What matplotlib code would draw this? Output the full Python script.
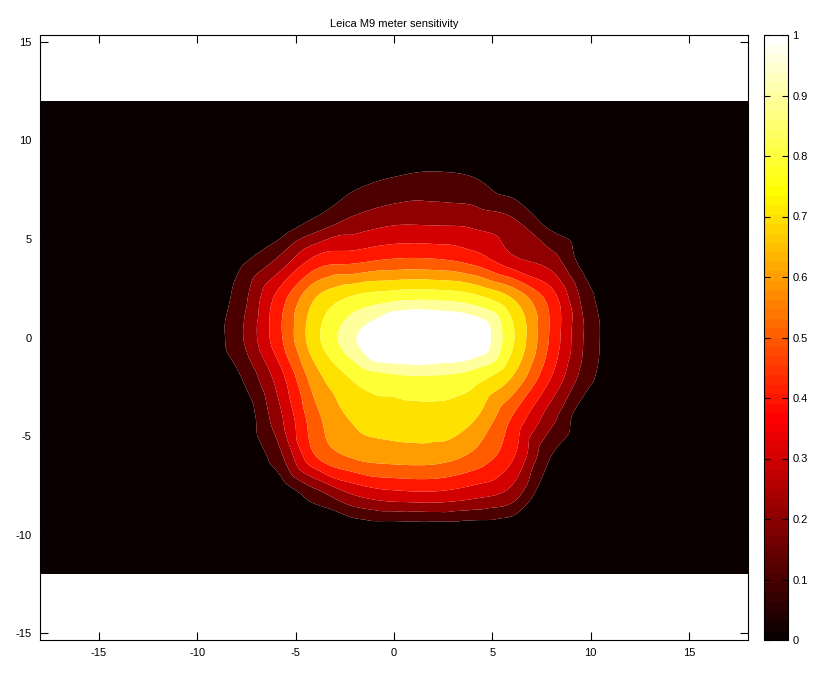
import numpy as np
import matplotlib
matplotlib.use('Agg')
import matplotlib.pyplot as plt
import matplotlib.tri as mtri
from matplotlib.colors import ListedColormap, Normalize
from matplotlib.cm import ScalarMappable

plt.rcParams['font.family'] = ['Liberation Sans', 'DejaVu Sans']
plt.rcParams['axes.unicode_minus'] = False

x_full = [-18, -16, -14, -12, -10, -8, -6, -4, -2, 0, 2, 4, 6, 8, 10, 12, 14, 16, 18]
y_full = [12, 10, 8, 6, 4, 2, 0, -2, -4, -6, -8, -10, -12]
x_inner = [-10, -8, -6, -4, -2, 0, 2, 4, 6, 8, 10, 12]
y_inner = [10, 8, 6, 4, 2, 0, -2, -4, -6, -8, -10]
sens_inner = [
    [0, 0, 0, 0, 0, 0, 0, 0, 0, 0, 0, 0],
    [0, 0, 0, 0, 0.07, 0.11, 0.13, 0.11, 0.03, 0, 0, 0],
    [0, 0, 0, 0.11, 0.22, 0.27, 0.27, 0.26, 0.21, 0.05, 0, 0],
    [0, 0.06, 0.20, 0.42, 0.46, 0.50, 0.50, 0.45, 0.32, 0.24, 0.02, 0],
    [0, 0.13, 0.42, 0.70, 0.82, 0.87, 0.88, 0.84, 0.70, 0.45, 0.12, 0],
    [0, 0.16, 0.45, 0.77, 0.99, 1.20, 1.20, 1.12, 0.82, 0.48, 0.15, 0],
    [0, 0.08, 0.33, 0.66, 0.82, 0.88, 0.89, 0.85, 0.70, 0.40, 0.12, 0],
    [0, 0, 0.25, 0.57, 0.72, 0.75, 0.76, 0.72, 0.50, 0.24, 0, 0],
    [0, 0, 0.15, 0.50, 0.62, 0.65, 0.65, 0.58, 0.42, 0.10, 0, 0],
    [0, 0, 0, 0.15, 0.30, 0.36, 0.37, 0.33, 0.25, 0, 0, 0],
    [0, 0, 0, 0, 0, 0, 0, 0, 0, 0, 0, 0],
]
levels = [0, 0.1, 0.2, 0.3, 0.4, 0.5, 0.6, 0.7, 0.8, 0.9, 1.0, 2.0]
cbar_ticks = [0, 0.1, 0.2, 0.3, 0.4, 0.5, 0.6, 0.7, 0.8, 0.9, 1]
cbar_labels = ['0', '0.1', '0.2', '0.3', '0.4', '0.5', '0.6', '0.7', '0.8', '0.9', '1']
axis_ticks = [-15, -10, -5, 0, 5, 10, 15]
title = 'Leica M9 meter sensitivity'

# assemble full grid (zeros outside sampled window)
Z = np.zeros((len(y_full), len(x_full)))
xi0 = x_full.index(x_inner[0])
yi0 = y_full.index(y_inner[0])
Z[yi0:yi0 + len(y_inner), xi0:xi0 + len(x_inner)] = np.array(sens_inner)
X, Y = np.meshgrid(x_full, y_full)

# smooth rendering of the contour fill via matplotlib's triangulation refiner
tri = mtri.Triangulation(X.ravel(), Y.ravel())
interp = mtri.CubicTriInterpolator(tri, Z.ravel(), kind='geom')
refiner = mtri.UniformTriRefiner(tri)
tri_f, z_f = refiner.refine_field(Z.ravel(), triinterpolator=interp, subdiv=3)

hot = plt.get_cmap('hot')
fill_colors = [hot(v) for v in levels[:-1]]
draw_levels = [-5] + levels[1:-1] + [5]

W, H = 834, 678
fig = plt.figure(figsize=(W / 100, H / 100), dpi=100)
ax = fig.add_axes([40 / W, 38 / H, 708 / W, 605 / H])
ax.tricontourf(tri_f, z_f, levels=draw_levels, colors=fill_colors, antialiased=True)
ax.set_xlim(-18, 18)
ax.set_ylim(-15.35, 15.35)
ax.set_xticks(axis_ticks)
ax.set_yticks(axis_ticks)
ax.tick_params(direction='in', length=5.5, width=0.8, top=True, right=True,
               labelsize=8, pad=6)
for s in ax.spines.values():
    s.set_linewidth(0.8)
ax.set_title(title, fontsize=8, pad=6)

cax = fig.add_axes([764 / W, 38 / H, 24 / W, 605 / H])
cmap64 = ListedColormap(hot(np.linspace(0, 1, 64)))
sm = ScalarMappable(norm=Normalize(0, 1), cmap=cmap64)
cb = fig.colorbar(sm, cax=cax, ticks=cbar_ticks)
cb.ax.set_yticklabels(cbar_labels)
cb.outline.set_linewidth(0.8)
cax.tick_params(direction='in', length=4, width=0.8, left=True, right=True,
                labelsize=8, pad=3)

fig.savefig('out.png', dpi=100)
